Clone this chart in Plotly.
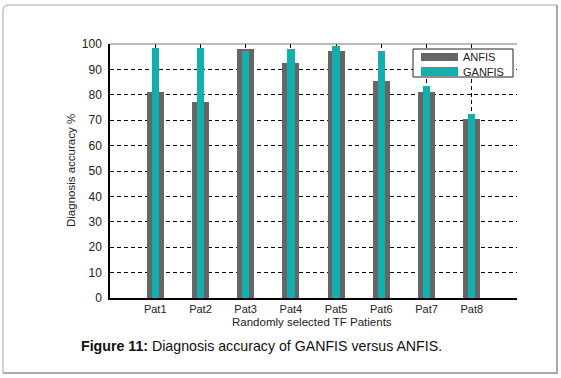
import plotly.graph_objects as go

patients = ["Pat1", "Pat2", "Pat3", "Pat4", "Pat5", "Pat6", "Pat7", "Pat8"]
positions = [1, 2, 3, 4, 5, 6, 7, 8]
anfis = [81.0, 77.2, 98.2, 92.7, 97.3, 85.6, 81.2, 70.4]
ganfis = [98.6, 98.5, 97.3, 98.0, 99.4, 97.3, 83.6, 72.5]
y_ticks = [0, 10, 20, 30, 40, 50, 60, 70, 80, 90, 100]

W, H = 561, 378
L, R, T, B = 110, 517, 44, 298
FONT = "Liberation Sans, Arial, sans-serif"
GRAY = "#666666"
TEAL = "#13AFAF"


def px(X):
    return (X - L) / (R - L)


def py(Y):
    return (B - Y) / (B - T)


fig = go.Figure()
fig.add_trace(go.Bar(x=positions, y=anfis, width=0.38, name="ANFIS",
                     marker=dict(color=GRAY, line=dict(width=0)), showlegend=False))
fig.add_trace(go.Bar(x=positions, y=ganfis, width=0.16, name="GANFIS",
                     marker=dict(color=TEAL, line=dict(width=0)), showlegend=False))

shapes = []
shapes.append(dict(type="line", xref="paper", yref="paper", x0=0, x1=1, y0=1, y1=1,
                   line=dict(color="#777777", width=1)))
shapes.append(dict(type="path", xref="paper", yref="paper",
                   path=f"M {px(3)},{py(373)} L {px(3)},{py(11)} Q {px(3)},{py(5)} {px(9)},{py(5)} L {px(557)},{py(5)}",
                   line=dict(color="#c4c4c4", width=1.5)))
shapes.append(dict(type="path", xref="paper", yref="paper",
                   path=f"M {px(557)},{py(5)} L {px(557)},{py(373)} L {px(3)},{py(373)}",
                   line=dict(color="#8f8f8f", width=1.5)))
shapes.append(dict(type="rect", xref="paper", yref="paper", x0=px(413), x1=px(513),
                   y0=py(77), y1=py(49), fillcolor="white", line=dict(color="#222222", width=1)))
shapes.append(dict(type="rect", xref="paper", yref="paper", x0=px(421), x1=px(458),
                   y0=py(61), y1=py(53), fillcolor=GRAY, line=dict(width=0)))
shapes.append(dict(type="rect", xref="paper", yref="paper", x0=px(421), x1=px(458),
                   y0=py(76), y1=py(67), fillcolor=TEAL, line=dict(width=0)))

annotations = [
    dict(text="ANFIS", xref="paper", yref="paper", x=px(461), y=py(57), xanchor="left",
         yanchor="middle", showarrow=False, font=dict(family=FONT, size=11, color="#222222")),
    dict(text="GANFIS", xref="paper", yref="paper", x=px(461), y=py(72), xanchor="left",
         yanchor="middle", showarrow=False, font=dict(family=FONT, size=11, color="#222222")),
    dict(text="Diagnosis accuracy %", xref="paper", yref="paper", x=px(71), y=py(171),
         xanchor="center", yanchor="middle", textangle=-90, showarrow=False,
         font=dict(family=FONT, size=11.5, color="#222222")),
    dict(text="Randomly selected TF Patients", xref="paper", yref="paper", x=px(312), y=py(322),
         xanchor="center", yanchor="middle", showarrow=False,
         font=dict(family=FONT, size=11.5, color="#222222")),
    dict(text="<b>Figure 11:</b> Diagnosis accuracy of GANFIS versus ANFIS.", xref="paper",
         yref="paper", x=px(261), y=py(346), xanchor="center", yanchor="middle", showarrow=False,
         font=dict(family=FONT, size=14.2, color="#111111")),
]

fig.update_layout(
    width=W, height=H,
    margin=dict(l=L, r=W - R, t=T, b=H - B, pad=0),
    paper_bgcolor="white", plot_bgcolor="white",
    barmode="overlay", bargap=0,
    shapes=shapes, annotations=annotations,
    font=dict(family=FONT, size=12, color="#222222"),
    xaxis=dict(range=[0, 9], tickmode="array", tickvals=positions, ticktext=patients,
               showgrid=True, gridcolor="#000000", griddash="4px,3px", gridwidth=1,
               showline=True, linecolor="#000000", linewidth=1.5, ticks="", zeroline=False,
               tickfont=dict(family=FONT, size=11, color="#222222"), fixedrange=True),
    yaxis=dict(range=[0, 100], tickmode="array", tickvals=y_ticks,
               showgrid=True, gridcolor="#000000", griddash="4px,3px", gridwidth=1,
               showline=True, linecolor="#000000", linewidth=1.5, ticks="", zeroline=False,
               ticklabelstandoff=4,
               tickfont=dict(family=FONT, size=12, color="#222222"), fixedrange=True),
)

fig.write_html("out.html", config={"displayModeBar": False},
               post_script="document.body.style.margin='0px';document.body.style.padding='0px';")
